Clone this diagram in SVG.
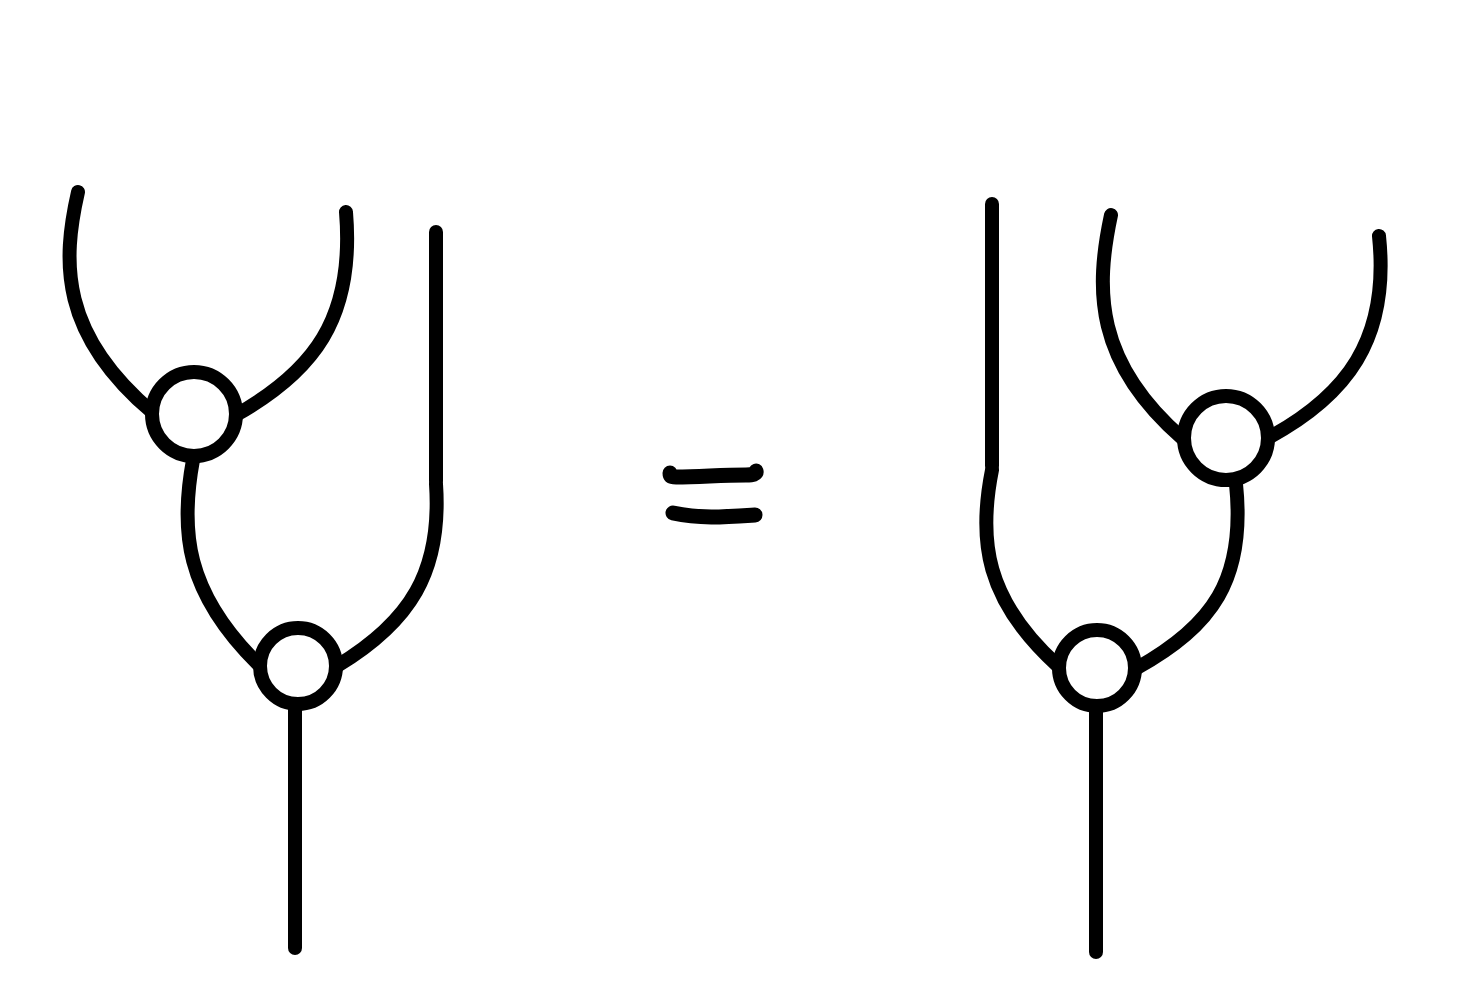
<svg xmlns="http://www.w3.org/2000/svg" width="1472" height="1000" viewBox="0 0 1472 1000">
<style>
.w{fill:none;stroke:#000;stroke-width:14;stroke-linecap:round}
.e{fill:none;stroke:#000;stroke-width:15;stroke-linecap:round;stroke-linejoin:round}
.n{fill:#fff;stroke:#000;stroke-width:14}
</style>
<rect width="1472" height="1000" fill="#fff"/>
<g id="connectors">
<path class="w" d="M78,192 C62,262 60,334 152,412"/>
<path class="w" d="M346,212 C355,320 312,372 236,415"/>
<path class="w" d="M436,232 L436,481"/>
<path class="w" d="M193,460 C180,530 185,592 258,664"/>
<path class="w" d="M436,484 C442,572 410,622 337,666"/>
<path class="w" d="M295,704 L295,948"/>
<path class="w" d="M992,204 L992,466"/>
<path class="w" d="M1111,215 C1095,290 1095,362 1182,438"/>
<path class="w" d="M1379,236 C1390,340 1346,396 1268,438"/>
<path class="w" d="M1236,484 C1246,580 1212,626 1137,668"/>
<path class="w" d="M992,470 C978,540 985,600 1058,666"/>
<path class="w" d="M1096,706 L1096,952"/>
</g>
<g id="eq">
<path class="e" d="M670,473 C670,477 672,477 676,477 C700,477 720,475 746,475 C753,475 757,474 756,471"/>
<path class="e" d="M673,513 C700,519 725,517 755,515"/>
</g>
<g id="m1"><circle class="n" cx="194" cy="414" r="42"/></g>
<g id="m2"><circle class="n" cx="298" cy="666" r="38"/></g>
<g id="m3"><circle class="n" cx="1226" cy="438" r="42"/></g>
<g id="m4"><circle class="n" cx="1097" cy="668" r="38"/></g>
</svg>
